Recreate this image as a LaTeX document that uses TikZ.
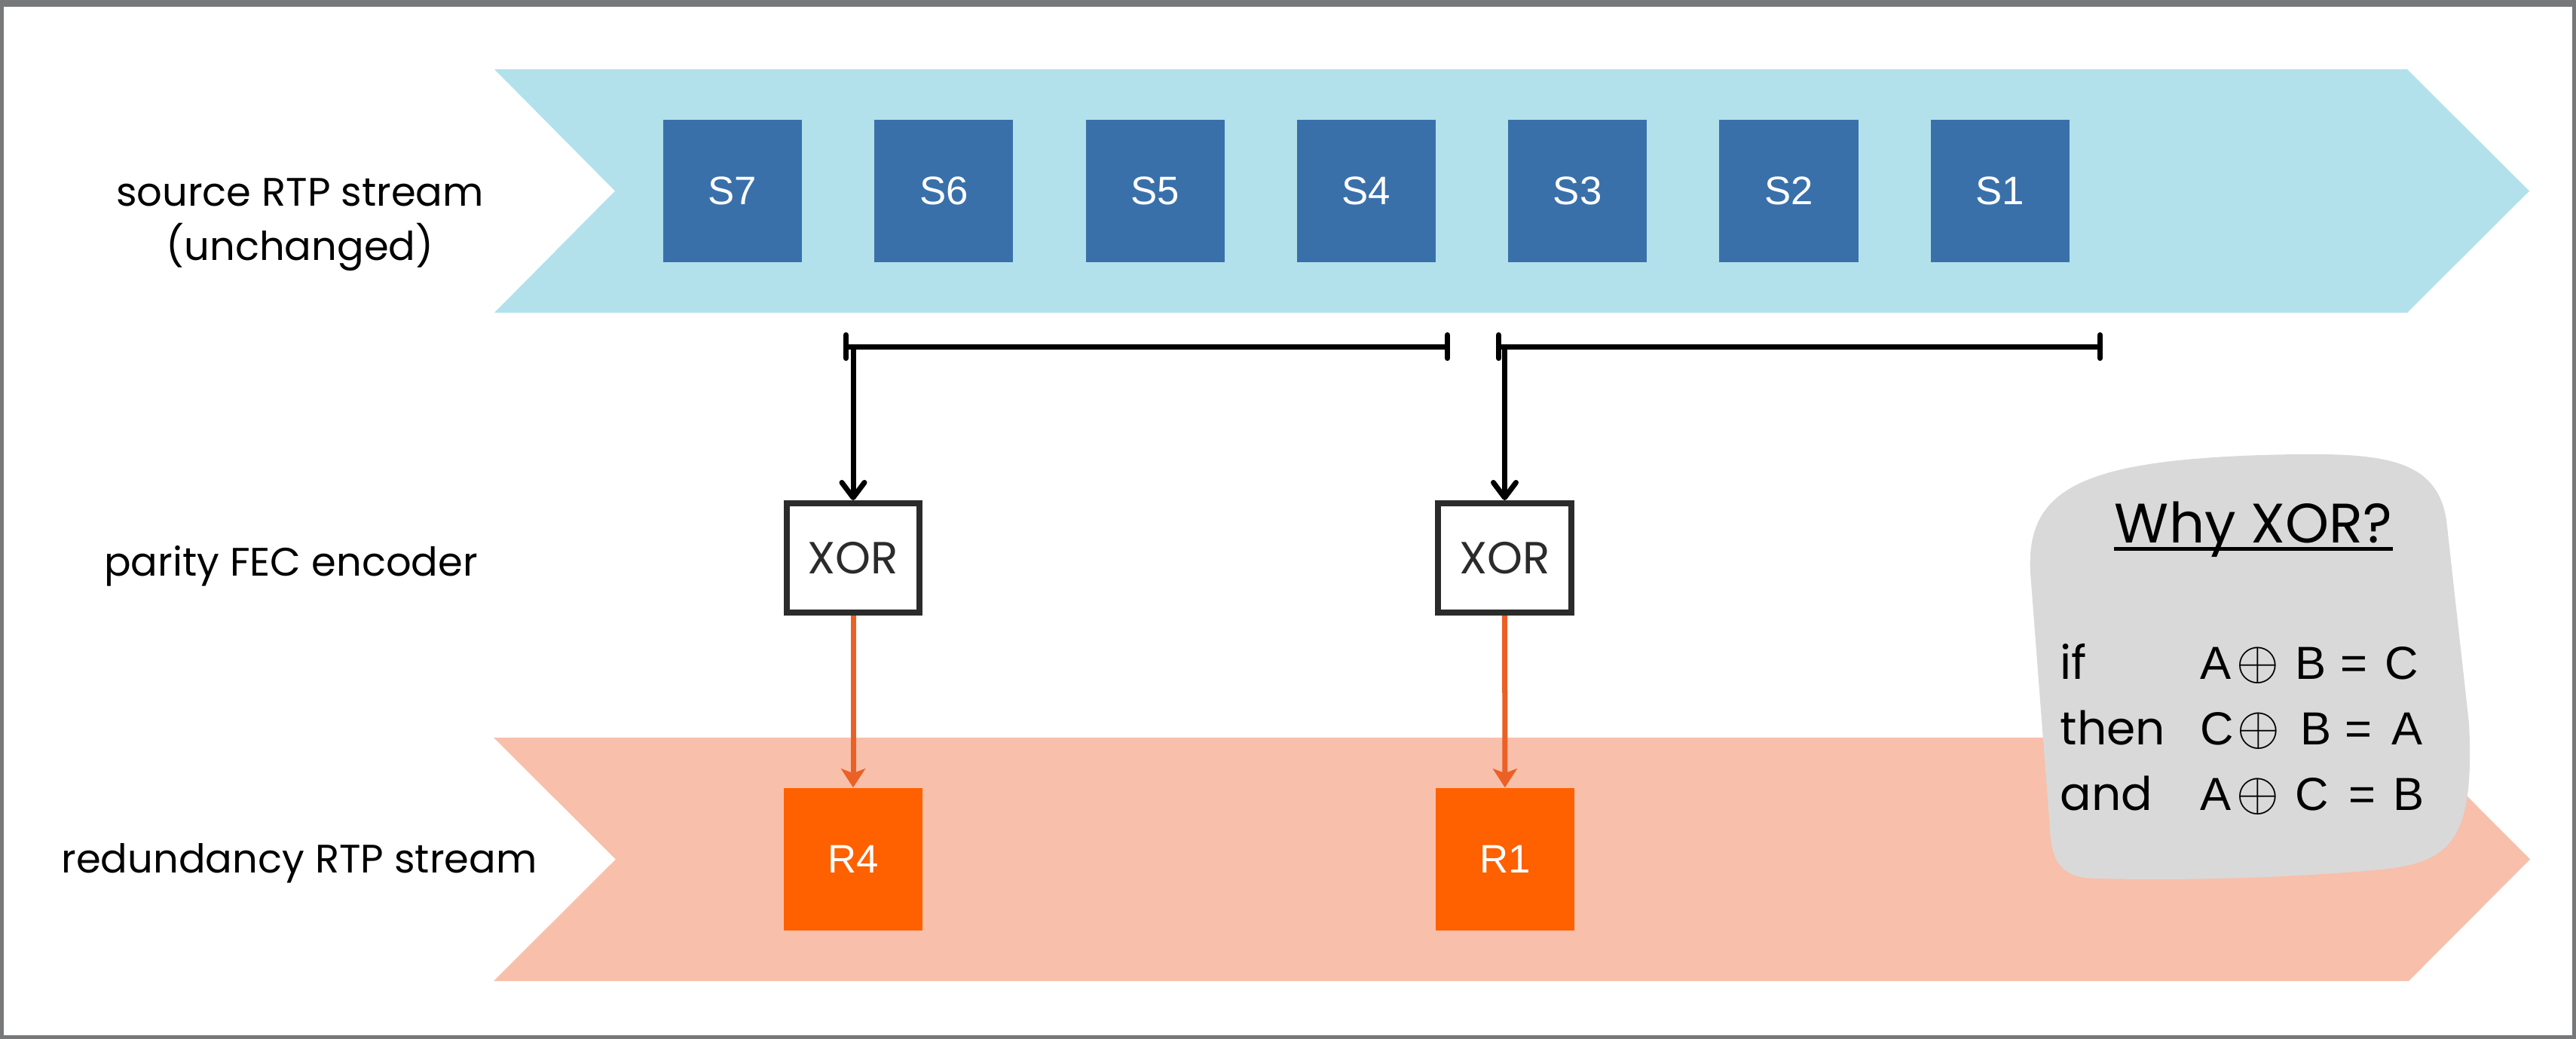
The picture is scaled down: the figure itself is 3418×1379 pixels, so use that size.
\documentclass[tikz,border=0pt]{standalone}
\usepackage{fontspec}
\setmainfont{Poppins}
\newfontfamily\arialf{Liberation Sans}
\usetikzlibrary{arrows.meta}
\definecolor{bandblue}{HTML}{B2E1EC}
\definecolor{boxblue}{HTML}{3A70AA}
\definecolor{bandorange}{HTML}{F8BFAB}
\definecolor{boxorange}{HTML}{FF6000}
\definecolor{arroworange}{HTML}{EB6024}
\definecolor{notegray}{HTML}{D9D9D9}
\definecolor{framegray}{HTML}{77787A}
\definecolor{xorgray}{HTML}{2B2B2B}
\newcommand{\xorop}{{\fontsize{21}{21}\selectfont$\oplus$}}
\begin{document}
\begin{tikzpicture}[x=0.01cm,y=-0.01cm,
  pkt/.style={minimum width=1.84cm, minimum height=1.89cm, inner sep=0pt, text=white, font=\arialf\fontsize{15}{18}\selectfont},
  srcpkt/.style={pkt, fill=boxblue},
  redpkt/.style={pkt, fill=boxorange},
  xorbox/.style={draw=xorgray, line width=0.8mm, fill=white, minimum width=1.76cm, minimum height=1.45cm, inner sep=0pt, text=xorgray, font=\fontsize{17}{20}\selectfont},
  lbl/.style={font=\fontsize{15}{20.5}\selectfont, align=center},
  brk/.style={line width=0.7mm, {Bar[width=3.1mm,round]}-{Bar[width=3.1mm,round]}},
  feed/.style={line width=0.7mm, -{Straight Barb[length=2mm,width=3mm,round]}},
  encout/.style={line width=0.7mm, draw=arroworange, -{Stealth[length=2.5mm,width=3.2mm,inset=0.6mm]}},
  noteword/.style={anchor=base west, inner sep=0pt, font=\fontsize{17.5}{21}\selectfont},
  eqn/.style={anchor=base west, inner sep=0pt, font=\arialf\fontsize{17.5}{21}\selectfont}
]
\useasboundingbox (0,0) rectangle (3418,1379);
% frame
\fill[framegray] (0,0) rectangle (3418,9);
\draw[framegray, line width=0.5mm] (2.5,2.5) rectangle (3415.5,1376.5);
% bands
\fill[bandblue] (656,92) -- (3194,92) -- (3356,253.5) -- (3194,415) -- (656,415) -- (816,253.5) -- cycle;
\fill[bandorange] (655,979) -- (3196,979) -- (3357,1140.5) -- (3196,1302) -- (655,1302) -- (817,1140.5) -- cycle;
% source packets
\foreach \i/\n in {0/7,1/6,2/5,3/4,4/3,5/2,6/1}
  \node[srcpkt] (s\n) at (972+280.3*\i,253.5) {S\n};
% labels
\node[lbl] (lsrc) at (398,298) {source RTP stream\\(unchanged)};
\node[lbl, anchor=base] (lenc) at (386,764) {parity FEC encoder};
\node[lbl, anchor=base] (lred) at (397,1158) {redundancy RTP stream};
% XOR encoders
\node[xorbox] (x1) at (1132,740.5) {XOR};
\node[xorbox] (x2) at (1996.5,740.5) {XOR};
% redundancy packets
\node[redpkt] (r4) at (1132,1140.5) {R4};
\node[redpkt] (r1) at (1997,1140.5) {R1};
% brackets
\coordinate (b1l) at (1119,460);
\coordinate (b1r) at (1924,460);
\coordinate (b2l) at (1985,460);
\coordinate (b2r) at (2790,460);
\draw[brk] (b1l) -- (b1r);
\draw[brk] (b2l) -- (b2r);
\draw[feed] (x1 |- b1l) -- (x1);
\draw[feed] (x2 |- b2l) -- (x2);
% encoder outputs
\draw[encout] (x1) -- (r4);
\draw[encout] (x2) -- (r1);
% note
\fill[notegray] (2694,760) .. controls (2688,650) and (2760,612) .. (3000,604)
  .. controls (3150,600) and (3232,602) .. (3246,690) -- (3276,960)
  .. controls (3284,1120) and (3250,1146) .. (3150,1155)
  .. controls (3000,1168) and (2860,1168) .. (2780,1166)
  .. controls (2732,1165) and (2722,1140) .. (2720,1100) -- cycle;
\node[anchor=base, inner sep=0pt, font=\fontsize{21}{25}\selectfont] (why) at (2990,720) {Why XOR?};
\draw[line width=0.5mm] ([yshift=-0.08cm]why.base west) -- ([yshift=-0.08cm]why.base east);
\node[noteword] (wif) at (2733,901) {if};
\node[noteword] (wthen) at (2733,988) {then};
\node[noteword] (wand) at (2733,1075) {and};
\node[eqn] (e1) at (2919,901) {A\hspace{2pt}\xorop\hspace{6pt}B\hspace{5.3pt}=\hspace{6.5pt}C};
\node[eqn] (e2) at (2919,988) {C\hspace{1.1pt}\xorop\hspace{7.8pt}B\hspace{5.3pt}=\hspace{7.4pt}A};
\node[eqn] (e3) at (2919,1075) {A\hspace{2pt}\xorop\hspace{6pt}C\hspace{7.4pt}=\hspace{6.7pt}B};
\end{tikzpicture}
\end{document}
